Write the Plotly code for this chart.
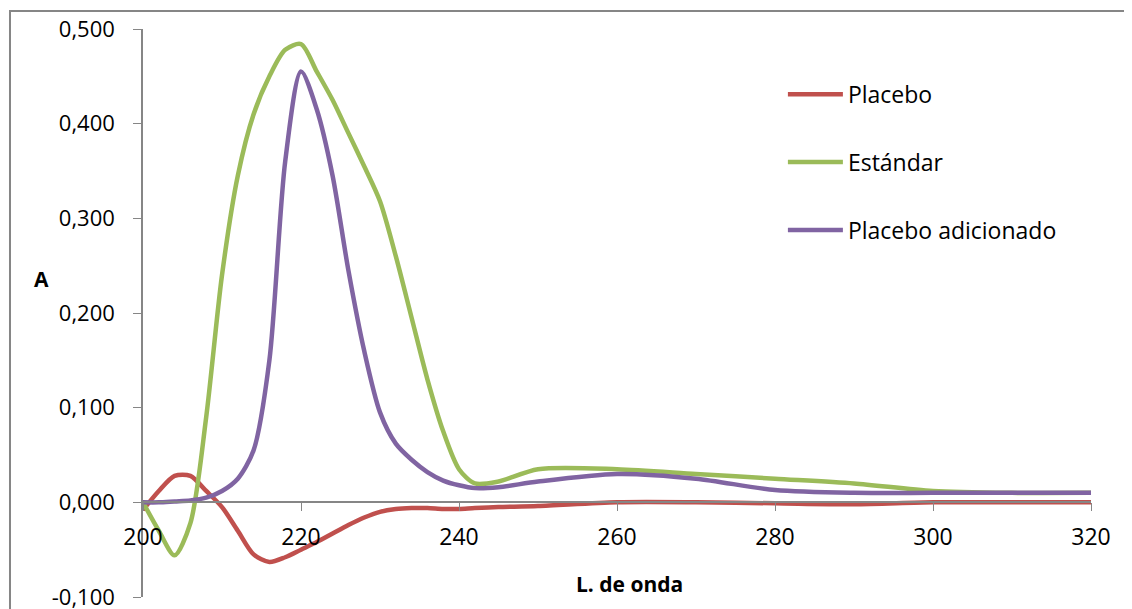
import plotly.graph_objects as go

wavelength = [200, 202, 204, 206, 208, 210, 212, 214, 216, 218, 220, 222, 224, 226, 228,
              230, 232, 234, 236, 238, 240, 242, 245, 250, 260, 270, 280, 290, 300, 310, 320]

placebo = [-0.008, 0.012, 0.028, 0.028, 0.012, -0.005, -0.030, -0.055, -0.063, -0.058,
           -0.050, -0.042, -0.033, -0.024, -0.016, -0.010, -0.007, -0.006, -0.006, -0.007,
           -0.007, -0.006, -0.005, -0.004, 0.000, 0.000, -0.001, -0.002, 0.000, 0.000, 0.000]

estandar = [0.000, -0.030, -0.056, -0.022, 0.090, 0.240, 0.345, 0.410, 0.450, 0.478,
            0.484, 0.455, 0.425, 0.390, 0.355, 0.318, 0.260, 0.195, 0.130, 0.075,
            0.035, 0.020, 0.022, 0.035, 0.035, 0.030, 0.025, 0.020, 0.012, 0.010, 0.010]

placebo_adic = [0.000, 0.000, 0.001, 0.002, 0.005, 0.012, 0.025, 0.055, 0.150, 0.360,
                0.455, 0.415, 0.345, 0.245, 0.160, 0.095, 0.062, 0.045, 0.032, 0.023,
                0.018, 0.015, 0.016, 0.022, 0.030, 0.025, 0.013, 0.010, 0.010, 0.010, 0.010]

series_names = ["Placebo", "Estándar", "Placebo adicionado"]
series_colors = ["#C0504D", "#9BBB59", "#8064A2"]

y_tickvals = [-0.1, 0.0, 0.1, 0.2, 0.3, 0.4, 0.5]
y_ticktext = ["-0,100", "0,000", "0,100", "0,200", "0,300", "0,400", "0,500"]
x_tickvals = [200, 220, 240, 260, 280, 300, 320]
x_ticktext = ["200", "220", "240", "260", "280", "300", "320"]

FONT = "Open Sans"
AXIS_COLOR = "#868686"

fig = go.Figure()
for name, vals, color in zip(series_names, [placebo, estandar, placebo_adic], series_colors):
    fig.add_trace(go.Scatter(
        x=wavelength, y=vals, mode="lines", name=name, legendgroup=name,
        line=dict(color=color, width=4.5, shape="spline", smoothing=0.8),
    ))

fig.update_layout(
    width=1132, height=609,
    margin=dict(l=135, r=49, t=21, b=20, autoexpand=False),
    paper_bgcolor="white", plot_bgcolor="white",
    font=dict(family=FONT, size=23, color="black"),
    showlegend=True,
    legend=dict(x=0.675, y=0.923, xanchor="left", yanchor="top",
                font=dict(family=FONT, size=23), tracegroupgap=35,
                itemwidth=55, bgcolor="rgba(0,0,0,0)"),
    xaxis=dict(range=[200, 320], tickvals=x_tickvals, ticktext=x_ticktext,
               showgrid=False, zeroline=False, showline=True, linecolor=AXIS_COLOR,
               linewidth=1.5, ticks="outside", ticklen=8, tickcolor=AXIS_COLOR,
               anchor="free", position=1/6, tickfont=dict(size=23), automargin=False,
               ticklabelstandoff=6),
    yaxis=dict(range=[-0.1, 0.5], tickvals=y_tickvals, ticktext=y_ticktext,
               showgrid=False, zeroline=False, showline=True, linecolor=AXIS_COLOR,
               linewidth=1.5, ticks="outside", ticklen=8, tickcolor=AXIS_COLOR,
               tickfont=dict(size=22), automargin=False, ticklabelstandoff=14),
    annotations=[
        dict(text="<b>A</b>", xref="paper", yref="paper", x=-0.1166, y=0.56,
             showarrow=False, font=dict(family=FONT, size=21)),
        dict(text="<b>L. de onda</b>", xref="paper", yref="paper", x=0.513, y=-0.005,
             showarrow=False, font=dict(family=FONT, size=21)),
    ],
    shapes=[
        dict(type="rect", xref="paper", yref="paper", x0=-0.1403, x1=1.2, y0=-0.2, y1=1.0317,
             line=dict(color=AXIS_COLOR, width=2), fillcolor="rgba(0,0,0,0)", layer="below"),
    ],
)

fig.write_html("out.html")
